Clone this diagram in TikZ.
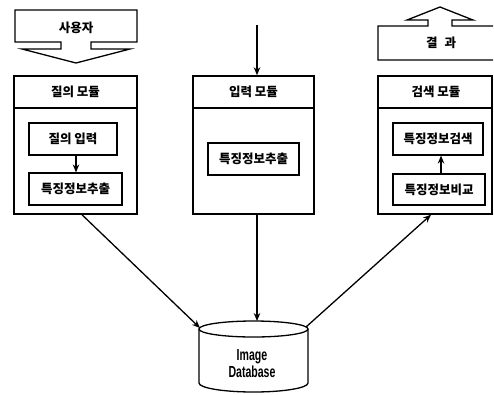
\documentclass[tikz,border=0pt]{standalone}
\usepackage{fontspec}
\usepackage{graphicx}
\usetikzlibrary{arrows.meta,calc}
\newfontfamily\kr{Noto Sans CJK KR}
\newfontfamily\lat{Liberation Sans}
\tikzset{
  modbox/.style={draw, line width=1.5pt, inner sep=0pt},
  inbox/.style={draw, line width=1.2pt, inner sep=0pt, minimum height=32pt},
  ktext/.style={font=\kr\bfseries\fontsize{12.5}{13}\selectfont, inner sep=0pt},
  arr/.style={line width=1.3pt, -{Stealth[length=8pt,width=6.5pt]}},
  blockarrow/.style={draw, line width=1.3pt, line join=miter},
}
\begin{document}
\begin{tikzpicture}[x=1pt,y=-1pt]
\useasboundingbox (0,0) rectangle (494,394);

% user block arrow
\draw[blockarrow] (15,10) -- (137,10) -- (137,42) -- (91,42) -- (91,49) -- (130,49) -- (76,63)
  -- (22,49) -- (61,49) -- (61,42) -- (15,42) -- cycle;
\node[ktext] (user) at (76,28) {사용자};

% result block arrow
\draw[blockarrow] (493,60) -- (378,60) -- (378,26) -- (428,26) -- (428,20) -- (407,20) -- (440,7)
  -- (473,20) -- (452,20) -- (452,26) -- (493,26);
\node[ktext] (result) at (441,43) {결\hspace{7pt}과};

% modules
\node[modbox, minimum width=123pt, minimum height=138pt] (lm) at (75.5,145) {};
\draw[line width=1.3pt] (lm.west |- 0,108) -- (lm.east |- 0,108);
\node[ktext] (lmt) at (75.5,92) {질의 모듈};

\node[modbox, minimum width=121pt, minimum height=138pt] (mm) at (253.5,145) {};
\draw[line width=1.3pt] (mm.west |- 0,108) -- (mm.east |- 0,108);
\node[ktext] (mmt) at (253.5,92) {입력 모듈};

\node[modbox, minimum width=114pt, minimum height=138pt] (rm) at (435,145) {};
\draw[line width=1.3pt] (rm.west |- 0,108) -- (rm.east |- 0,108);
\node[ktext] (rmt) at (436,92) {검색 모듈};

% inner boxes
\node[inbox, minimum width=88pt] (q1) at (73,139) {};
\node[ktext] at (q1) {질의 입력};
\node[inbox, minimum width=93pt] (q2) at (75.5,189) {};
\node[ktext] at (q2) {특징정보추출};
\draw[arr] (q1.south -| 76,0) -- (q2.north -| 76,0);

\node[inbox, minimum width=91pt] (m1) at (253.5,159) {};
\node[ktext] at (m1) {특징정보추출};

\node[inbox, minimum width=90pt] (r1) at (438,139) {};
\node[ktext] at (r1) {특징정보검색};
\node[inbox, minimum width=92pt, minimum height=31pt] (r2) at (439,189.5) {};
\node[ktext] at (r2) {특징정보비교};
\draw[arr] (r2.north -| 441,0) -- (r1.south -| 441,0);

% database cylinder
\draw[line width=1.3pt] (199,329) -- (199,383) arc[start angle=180, end angle=0, x radius=54.5, y radius=9] -- (308,329);
\draw[line width=1.3pt, fill=white] (253.5,329) ellipse [x radius=54.5, y radius=8];
\node[font=\lat\bfseries\fontsize{16}{17}\selectfont, align=center, inner sep=0pt] (db) at (252,364)
  {\scalebox{0.66}[1]{Image}\\[0pt]\scalebox{0.66}[1]{Database}};
\coordinate (dbl) at (200,328);
\coordinate (dbt) at (257,321);
\coordinate (dbr) at (306,327);

% connectors
\coordinate (inp) at (257,25);
\draw[arr] (inp) -- (inp |- mm.north);
\draw[arr] ([xshift=6.5pt]lm.south) -- (dbl);
\draw[arr] ([xshift=3.5pt]mm.south) -- (dbt);
\draw[arr] (dbr) -- ([xshift=-4pt]rm.south);
\end{tikzpicture}
\end{document}
